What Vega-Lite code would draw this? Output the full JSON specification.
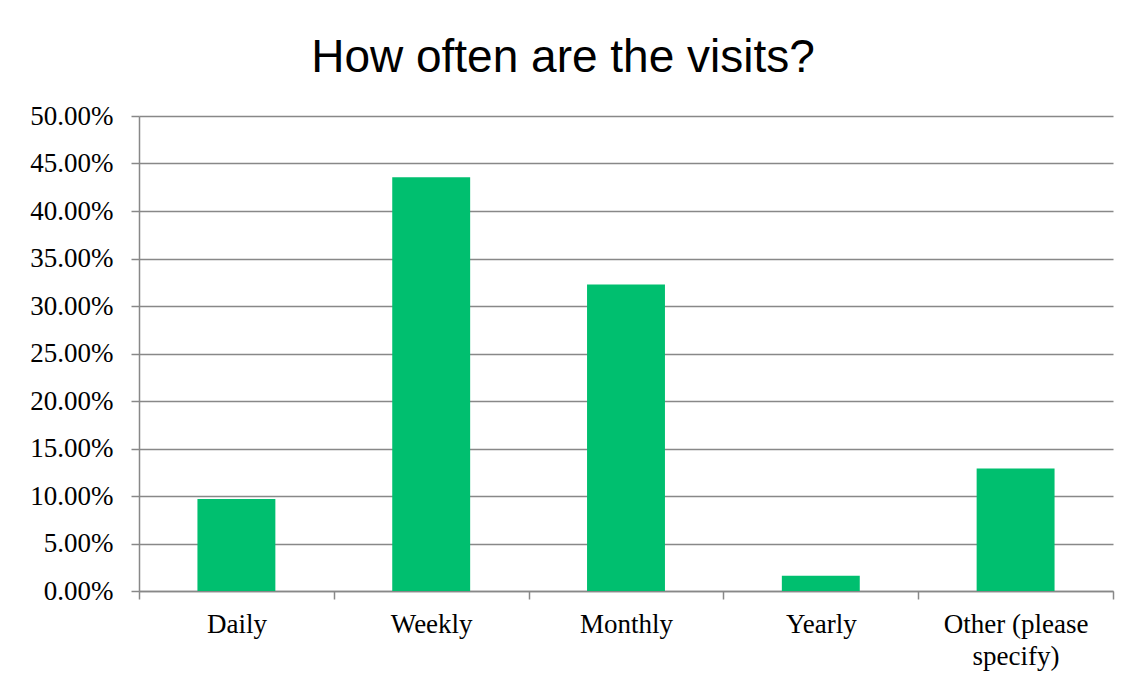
{
  "$schema": "https://vega.github.io/schema/vega-lite/v6.json",
  "width": 974,
  "height": 475,
  "autosize": {"type": "none"},
  "padding": {"left": 139, "top": 116, "right": 21, "bottom": 92},
  "background": "white",
  "title": {
    "text": "How often are the visits?",
    "font": "Liberation Sans",
    "fontSize": 46,
    "fontWeight": "normal",
    "color": "black",
    "baseline": "alphabetic",
    "offset": -16,
    "dx": -63
  },
  "data": {
    "values": [
      {"option": "Daily", "share": 0.0968},
      {"option": "Weekly", "share": 0.4355},
      {"option": "Monthly", "share": 0.3226},
      {"option": "Yearly", "share": 0.0161},
      {"option": "Other (please specify)", "share": 0.129}
    ]
  },
  "mark": {"type": "bar", "color": "#00BF6F", "width": {"band": 0.4}},
  "encoding": {
    "x": {
      "field": "option",
      "type": "nominal",
      "sort": null,
      "title": null,
      "scale": {"paddingInner": 0, "paddingOuter": 0},
      "axis": {
        "labelAngle": 0,
        "labelFont": "Liberation Serif",
        "labelFontSize": 27,
        "labelColor": "black",
        "labelPadding": 12,
        "labelLineHeight": 32,
        "labelLimit": 300,
        "labelExpr": "datum.label == 'Other (please specify)' ? ['Other (please', 'specify)'] : datum.label",
        "tickBand": "extent",
        "tickSize": 8,
        "tickColor": "#888888",
        "tickWidth": 1.5,
        "domainColor": "#888888",
        "domainWidth": 1.5,
        "grid": false
      }
    },
    "y": {
      "field": "share",
      "type": "quantitative",
      "title": null,
      "scale": {"domain": [0, 0.5], "nice": false},
      "axis": {
        "values": [0, 0.05, 0.1, 0.15, 0.2, 0.25, 0.3, 0.35, 0.4, 0.45, 0.5],
        "format": ".2%",
        "labelFont": "Liberation Serif",
        "labelFontSize": 27,
        "labelColor": "black",
        "labelPadding": 18,
        "tickSize": 8,
        "tickColor": "#888888",
        "tickWidth": 1.5,
        "domainColor": "#888888",
        "domainWidth": 1.5,
        "grid": true,
        "gridColor": "#888888",
        "gridWidth": 1.5
      }
    }
  },
  "config": {"view": {"stroke": null}}
}
